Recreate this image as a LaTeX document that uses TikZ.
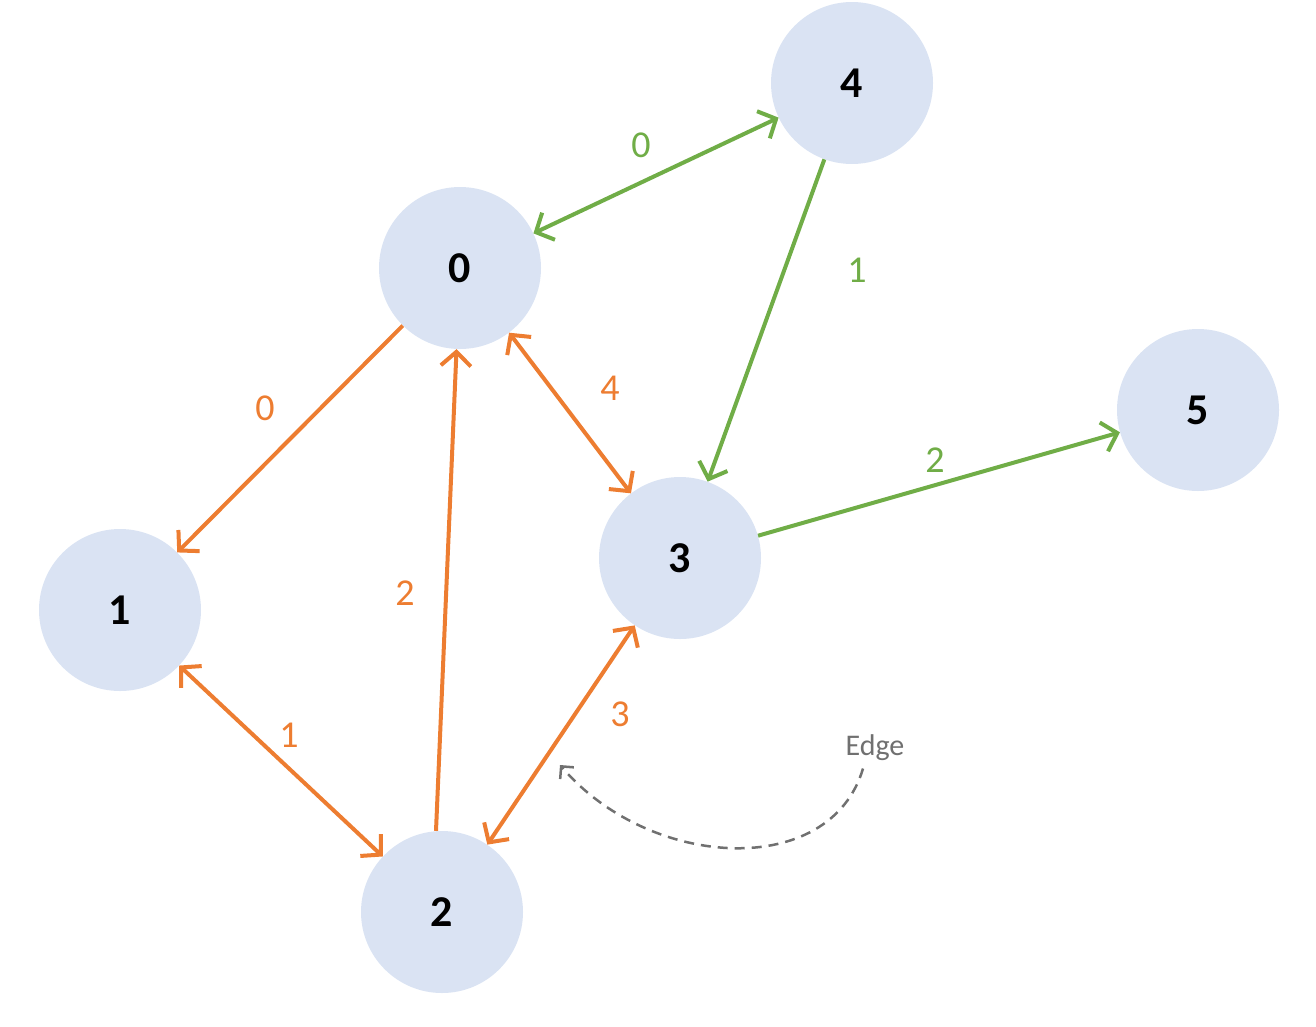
\documentclass[tikz,border=0pt]{standalone}
\usepackage{fontspec}
\setmainfont{Carlito}
\usetikzlibrary{arrows.meta}
\definecolor{nodefill}{HTML}{DAE3F3}
\definecolor{org}{HTML}{ED7D31}
\definecolor{grn}{HTML}{70AD47}
\definecolor{gry}{HTML}{707070}
\begin{document}
\begin{tikzpicture}[x=1pt,y=-1pt,
  vert/.style={circle,fill=nodefill,minimum size=162pt,inner sep=0pt,font=\fontsize{44}{44}\selectfont\bfseries},
  oe/.style={draw=org,line width=4pt,arrows={-Straight Barb[length=14pt,width=30pt]}},
  ge/.style={draw=grn,line width=4pt,arrows={-Straight Barb[length=14pt,width=30pt]}},
  bo/.style={arrows={Straight Barb[length=14pt,width=30pt]-Straight Barb[length=14pt,width=30pt]}},
  ol/.style={text=org,font=\fontsize{38}{38}\selectfont},
  gl/.style={text=grn,font=\fontsize{38}{38}\selectfont}]
\useasboundingbox (0,0) rectangle (1316,1026);
\node[vert] (n0) at (460,268) {0};
\node[vert] (n1) at (120,610) {1};
\node[vert] (n2) at (442,912) {2};
\node[vert] (n3) at (680,558) {3};
\node[vert] (n4) at (852,83) {4};
\node[vert] (n5) at (1198,410) {5};
\draw[ge,bo] (n0) -- (n4);
\draw[ge] (n4) -- (n3);
\draw[ge] (n3) -- (n5);
\draw[oe] (n0) -- (n1);
\draw[oe] (n2.north) ++(-6,0) coordinate (s2) (s2) -- (n0);
\draw[oe,bo] (n0) -- (n3);
\draw[oe,bo] (n1) -- (n2);
\draw[oe,bo] (n2) -- (n3);
\node[gl] (l04) at (641,145) {0};
\node[gl] (l43) at (857,270) {1};
\node[gl] (l35) at (935,460) {2};
\node[ol] (l01) at (265,408) {0};
\node[ol] (l20) at (405,593) {2};
\node[ol] (l03) at (610,388) {4};
\node[ol] (l12) at (289,735) {1};
\node[ol] (l23) at (620,714) {3};
\node[text=gry,font=\fontsize{30}{30}\selectfont] (edge) at (875,748) {Edge};
\coordinate (tip) at (560,765);
\draw[gry,line width=2.5pt,dashed,dash pattern=on 10pt off 7pt,arrows={-Straight Barb[length=9pt,width=18pt]}]
  (edge.south) ++(-12,4) coordinate (es) (es) .. controls (830,880) and (650,870) .. (tip);
\end{tikzpicture}
\end{document}
